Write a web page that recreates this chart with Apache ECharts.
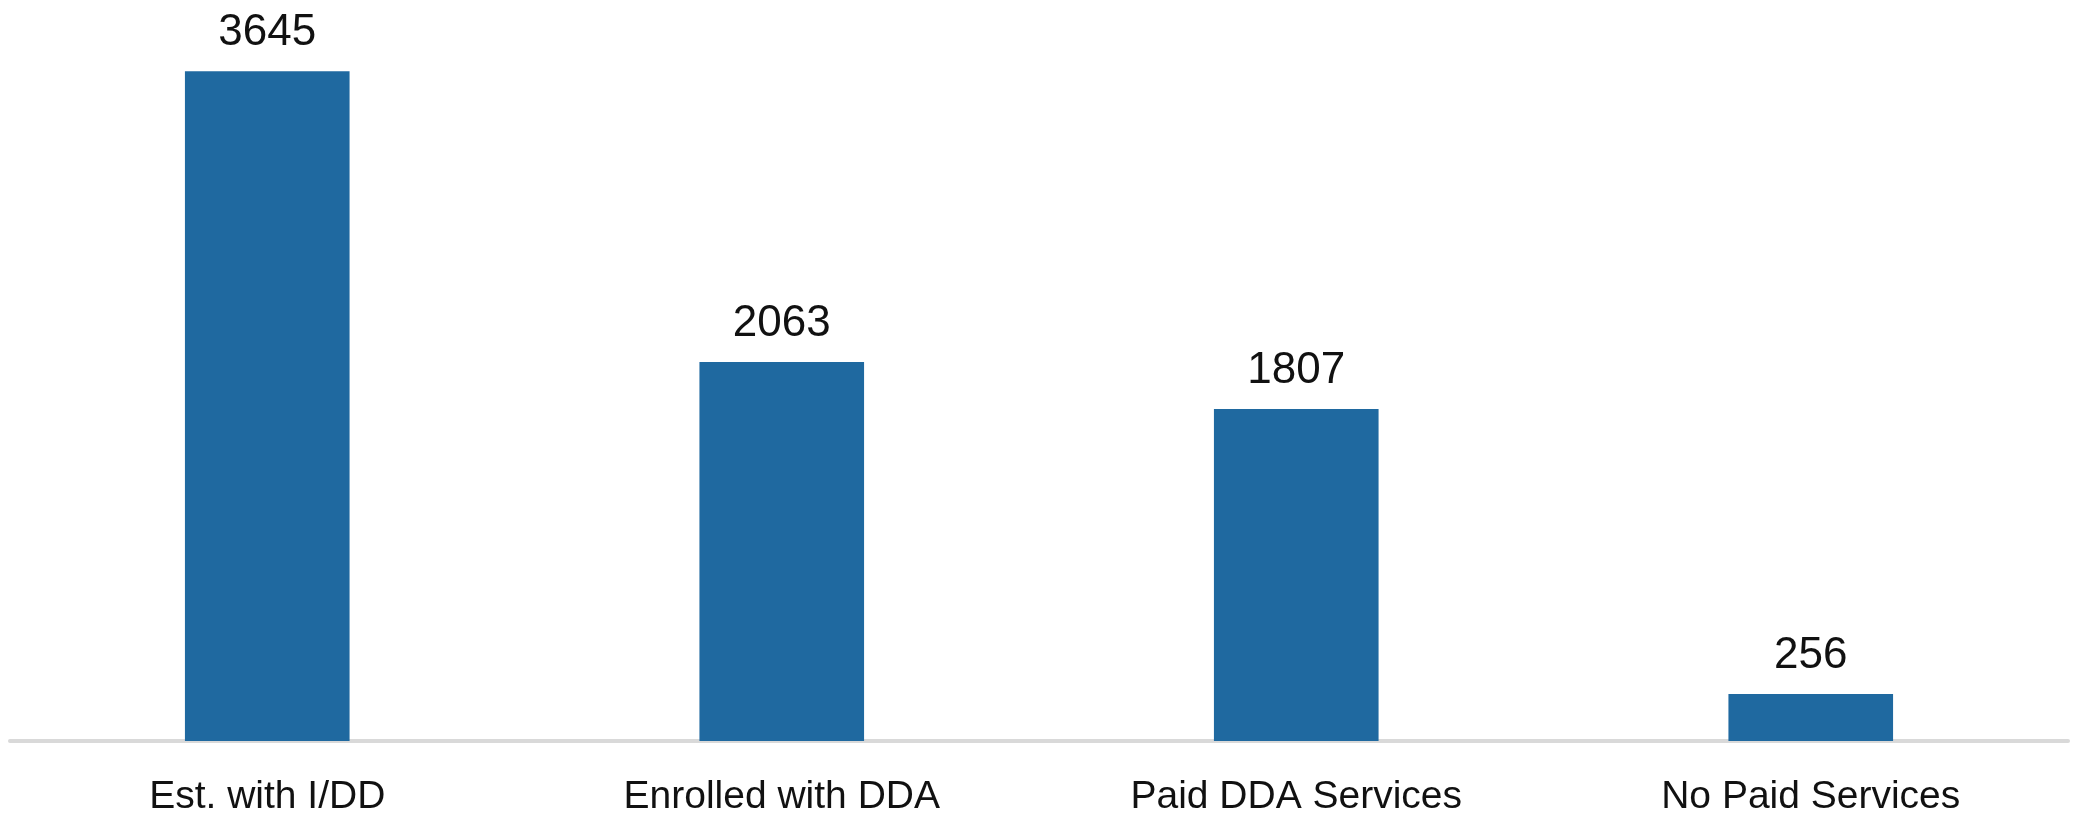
<!DOCTYPE html>
<html>
<head>
<meta charset="utf-8">
<script src="https://cdn.jsdelivr.net/npm/echarts@6/dist/echarts.min.js"></script>
<style>html,body{margin:0;padding:0;background:#fff}#c{width:2082px;height:817px}</style>
</head>
<body>
<div id="c"></div>
<script>
const categories = ["Est. with I/DD", "Enrolled with DDA", "Paid DDA Services", "No Paid Services"];
const values = [3645, 2063, 1807, 256];

const chart = echarts.init(document.getElementById('c'), null, {renderer: 'canvas'});
chart.setOption({
  animation: false,
  backgroundColor: '#ffffff',
  grid: {left: 10, right: 14, top: 6, bottom: 74, containLabel: false},
  xAxis: {
    type: 'category',
    data: categories,
    axisLine: {show: true, lineStyle: {color: '#d9d9d9', width: 4}},
    axisTick: {show: false},
    axisLabel: {
      interval: 0,
      color: '#111111',
      fontFamily: '"Liberation Sans Narrow", "Arial Narrow", "Liberation Sans", Arial, sans-serif',
      fontSize: 39,
      margin: 37
    }
  },
  yAxis: {
    type: 'value',
    min: 0,
    max: 4000,
    show: false,
    splitLine: {show: false}
  },
  series: [{
    type: 'bar',
    data: values,
    barWidth: '32%',
    itemStyle: {color: '#1f69a0', borderColor: '#b9cde0', borderWidth: 0},
    label: {
      show: true,
      position: 'top',
      distance: 16,
      color: '#111111',
      fontFamily: '"Liberation Sans", Arial, sans-serif',
      fontSize: 44
    }
  }]
});
</script>
</body>
</html>
